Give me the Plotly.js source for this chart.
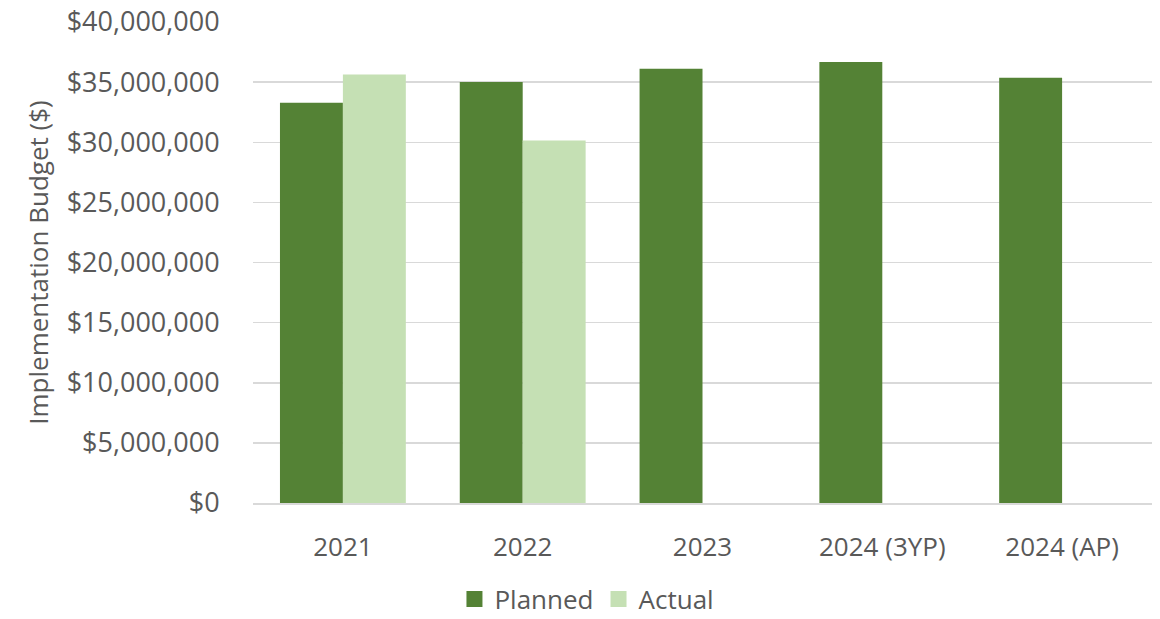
<!DOCTYPE html>
<html>
<head>
<meta charset="utf-8">
<script src="https://cdn.plot.ly/plotly-3.0.1.min.js"></script>
<style>html,body{margin:0;padding:0;background:#fff;}#chart{width:1160px;height:619px;}</style>
</head>
<body>
<div id="chart"></div>
<script>
const categories = ["2021", "2022", "2023", "2024 (3YP)", "2024 (AP)"];
const planned = [33280000, 35000000, 36120000, 36670000, 35370000];
const actual = [35640000, 30140000, null, null, null];
const yTickVals = [0, 5000000, 10000000, 15000000, 20000000, 25000000, 30000000, 35000000, 40000000];
const yTickText = ["$0", "$5,000,000", "$10,000,000", "$15,000,000", "$20,000,000", "$25,000,000", "$30,000,000", "$35,000,000", "$40,000,000"];
const seriesNames = ["Planned", "Actual"];
const seriesColors = ["#548235", "#c5e0b4"];

const font = "Open Sans, Liberation Sans, sans-serif";
const grey = "#595959";

const data = [
  {type: "bar", name: seriesNames[0], x: categories, y: planned, marker: {color: seriesColors[0]}, hoverinfo: "none", showlegend: false},
  {type: "bar", name: seriesNames[1], x: categories, y: actual, marker: {color: seriesColors[1]}, hoverinfo: "none", showlegend: false},
  {type: "scatter", mode: "markers", name: seriesNames[0], x: [categories[0]], y: [null], marker: {symbol: "square", size: 17, color: seriesColors[0]}, hoverinfo: "none"},
  {type: "scatter", mode: "markers", name: seriesNames[1], x: [categories[0]], y: [null], marker: {symbol: "square", size: 17, color: seriesColors[1]}, hoverinfo: "none"}
];

const layout = {
  width: 1160, height: 619,
  margin: {l: 253, r: 8, t: 22, b: 116},
  paper_bgcolor: "#fff", plot_bgcolor: "#fff",
  barmode: "group", bargap: 0.3, bargroupgap: 0,
  font: {family: font, color: grey, size: 26},
  showlegend: true,
  legend: {orientation: "h", xref: "container", yref: "container", x: 0.506, xanchor: "center", y: 0.07, yanchor: "top",
           font: {size: 26, color: grey, family: font}, itemwidth: 30, traceorder: "normal", tracegroupgap: 0},
  xaxis: {type: "category", showgrid: false, showline: true, linecolor: "#d9d9d9", linewidth: 1.5,
          ticks: "outside", ticklen: 0, tickcolor: "#fff", ticklabelstandoff: 20,
          tickfont: {size: 26, color: grey, family: font}},
  yaxis: {range: [0, 40000000], tickvals: yTickVals, ticktext: yTickText, showgrid: true, gridcolor: "#d9d9d9", gridwidth: 1.5,
          zeroline: false, showline: false, ticks: "outside", ticklen: 0, tickcolor: "#fff", ticklabelstandoff: 27,
          tickfont: {size: 27, color: grey, family: font},
          title: {text: "Implementation Budget ($)", font: {size: 26, color: grey, family: font}, standoff: 10}}
};

Plotly.newPlot("chart", data, layout, {staticPlot: true, displayModeBar: false});
</script>
</body>
</html>
